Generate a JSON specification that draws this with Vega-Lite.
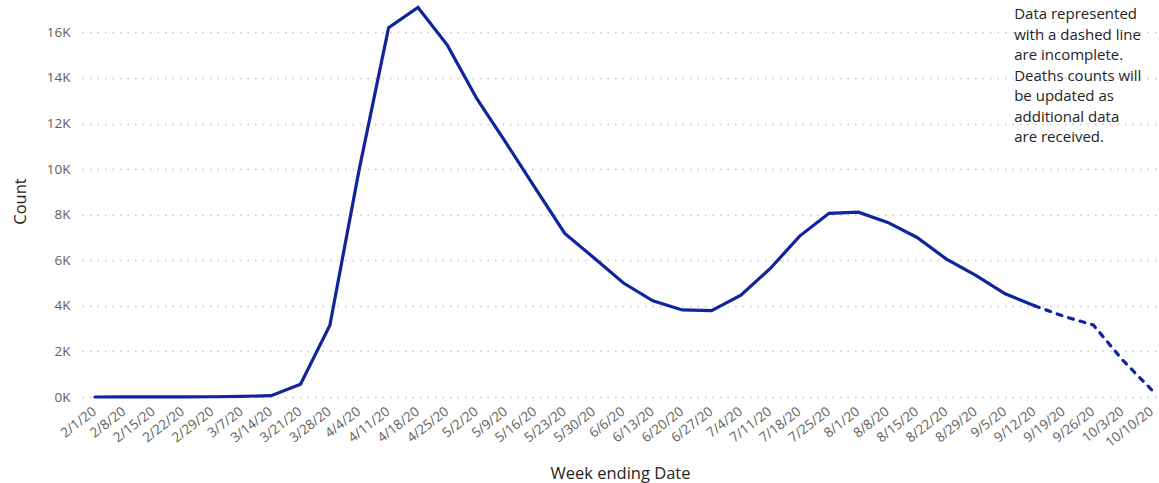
{
  "$schema": "https://vega.github.io/schema/vega-lite/v6.json",
  "autosize": {"type": "none"},
  "width": 1076,
  "height": 392,
  "padding": {"left": 82, "top": 5, "right": 1, "bottom": 86},
  "background": "white",
  "config": {
    "view": {"stroke": null},
    "font": "Open Sans"
  },
  "data": {
    "values": [
      {"i": 0, "week": "2/1/20", "count": 0},
      {"i": 1, "week": "2/8/20", "count": 3},
      {"i": 2, "week": "2/15/20", "count": 5},
      {"i": 3, "week": "2/22/20", "count": 8},
      {"i": 4, "week": "2/29/20", "count": 12},
      {"i": 5, "week": "3/7/20", "count": 30},
      {"i": 6, "week": "3/14/20", "count": 60},
      {"i": 7, "week": "3/21/20", "count": 560},
      {"i": 8, "week": "3/28/20", "count": 3150},
      {"i": 9, "week": "4/4/20", "count": 10000},
      {"i": 10, "week": "4/11/20", "count": 16200},
      {"i": 11, "week": "4/18/20", "count": 17090},
      {"i": 12, "week": "4/25/20", "count": 15440},
      {"i": 13, "week": "5/2/20", "count": 13100},
      {"i": 14, "week": "5/9/20", "count": 11150},
      {"i": 15, "week": "5/16/20", "count": 9150},
      {"i": 16, "week": "5/23/20", "count": 7180},
      {"i": 17, "week": "5/30/20", "count": 6100},
      {"i": 18, "week": "6/6/20", "count": 5000},
      {"i": 19, "week": "6/13/20", "count": 4220},
      {"i": 20, "week": "6/20/20", "count": 3820},
      {"i": 21, "week": "6/27/20", "count": 3790},
      {"i": 22, "week": "7/4/20", "count": 4470},
      {"i": 23, "week": "7/11/20", "count": 5640},
      {"i": 24, "week": "7/18/20", "count": 7060},
      {"i": 25, "week": "7/25/20", "count": 8060},
      {"i": 26, "week": "8/1/20", "count": 8110},
      {"i": 27, "week": "8/8/20", "count": 7660},
      {"i": 28, "week": "8/15/20", "count": 7000},
      {"i": 29, "week": "8/22/20", "count": 6050},
      {"i": 30, "week": "8/29/20", "count": 5340},
      {"i": 31, "week": "9/5/20", "count": 4530},
      {"i": 32, "week": "9/12/20", "count": 4000},
      {"i": 33, "week": "9/19/20", "count": 3540},
      {"i": 34, "week": "9/26/20", "count": 3160},
      {"i": 35, "week": "10/3/20", "count": 1620},
      {"i": 36, "week": "10/10/20", "count": 300}
    ]
  },
  "encoding": {
    "x": {
      "field": "week",
      "type": "ordinal",
      "sort": {"field": "i", "op": "min"},
      "scale": {"type": "point", "padding": 0.3236, "align": 0.684},
      "axis": {
        "title": "Week ending Date",
        "titleFont": "Open Sans",
        "titleFontSize": 16.5,
        "titleFontWeight": "normal",
        "titleColor": "#252423",
        "titlePadding": 16,
        "labelAngle": -38,
        "labelFont": "Open Sans",
        "labelFontSize": 13.5,
        "labelColor": "#605E5C",
        "labelPadding": 7,
        "labelOffset": -5,
        "ticks": false,
        "domain": false,
        "grid": false
      }
    },
    "y": {
      "field": "count",
      "type": "quantitative",
      "scale": {"domain": [0, 17200], "nice": false},
      "axis": {
        "title": "Count",
        "titleFont": "Open Sans",
        "titleFontSize": 16.5,
        "titleFontWeight": "normal",
        "titleColor": "#252423",
        "titlePadding": 18,
        "values": [0, 2000, 4000, 6000, 8000, 10000, 12000, 14000, 16000],
        "labelExpr": "(datum.value / 1000) + 'K'",
        "labelFont": "Open Sans",
        "labelFontSize": 13.5,
        "labelColor": "#605E5C",
        "labelPadding": 12,
        "ticks": false,
        "domain": false,
        "grid": true,
        "gridColor": "#C8C6C4",
        "gridDash": [1.5, 6],
        "gridWidth": 1.5
      }
    }
  },
  "layer": [
    {
      "transform": [{"filter": "datum.i >= 32"}],
      "mark": {"type": "line", "color": "#12239E", "strokeWidth": 3.2, "strokeDash": [5, 7], "strokeCap": "round"}
    },
    {
      "transform": [{"filter": "datum.i <= 32"}],
      "mark": {"type": "line", "color": "#12239E", "strokeWidth": 3.2, "strokeCap": "round"}
    },
    {
      "transform": [{"filter": "datum.i == 31"}],
      "mark": {
        "type": "text",
        "text": ["Data represented", "with a dashed line", "are incomplete.", "Deaths counts will", "be updated as", "additional data", "are received."],
        "align": "left",
        "baseline": "top",
        "dx": 9,
        "dy": 2,
        "font": "Open Sans",
        "fontSize": 15,
        "lineHeight": 20.5,
        "color": "#252423"
      },
      "encoding": {
        "y": {"datum": 17200}
      }
    }
  ]
}
